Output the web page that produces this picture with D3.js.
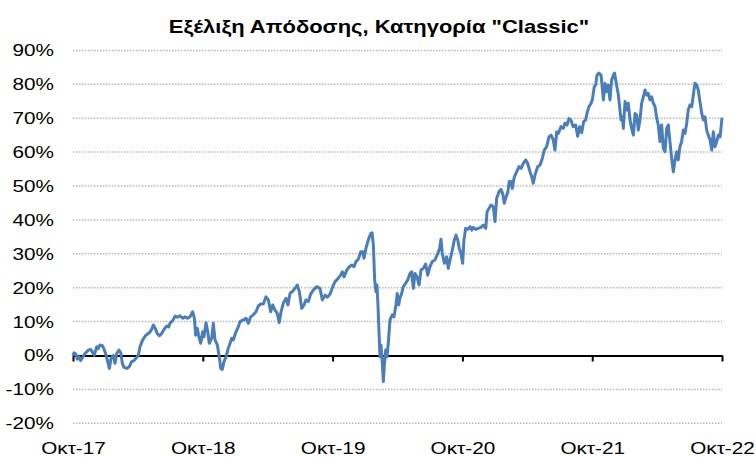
<!DOCTYPE html>
<html>
<head>
<meta charset="utf-8">
<script src="https://cdn.jsdelivr.net/npm/d3@7"></script>
<style>
  body { margin: 0; background: #fff; }
  svg { display: block; font-family: "Liberation Sans", Arial, sans-serif; }
</style>
</head>
<body>
<svg width="756" height="457"></svg>
<script>
const title = 'Εξέλιξη Απόδοσης, Κατηγορία "Classic"';
const xTickLabels = ["Οκτ-17", "Οκτ-18", "Οκτ-19", "Οκτ-20", "Οκτ-21", "Οκτ-22"];
const xTickYears = [2017.75, 2018.75, 2019.75, 2020.75, 2021.75, 2022.75];
const yTicks = [-20, -10, 0, 10, 20, 30, 40, 50, 60, 70, 80, 90];

// time as decimal year, return in %
const years = [
	2017.750, 2017.758, 2017.773, 2017.783, 2017.796, 2017.809, 2017.825, 2017.842, 2017.868, 2017.886,
	2017.902, 2017.914, 2017.933, 2017.945, 2017.958, 2017.979, 2017.997, 2018.014, 2018.030, 2018.043,
	2018.060, 2018.074, 2018.087, 2018.104, 2018.118, 2018.130, 2018.143, 2018.164, 2018.184, 2018.202,
	2018.220, 2018.235, 2018.253, 2018.266, 2018.287, 2018.312, 2018.338, 2018.356, 2018.369, 2018.384,
	2018.399, 2018.415, 2018.433, 2018.451, 2018.472, 2018.487, 2018.497, 2018.518, 2018.536, 2018.554,
	2018.574, 2018.595, 2018.613, 2018.632, 2018.651, 2018.672, 2018.685, 2018.695, 2018.708, 2018.718,
	2018.734, 2018.749, 2018.759, 2018.775, 2018.788, 2018.800, 2018.819, 2018.831, 2018.844, 2018.862,
	2018.877, 2018.888, 2018.900, 2018.913, 2018.929, 2018.942, 2018.960, 2018.973, 2018.985, 2019.006,
	2019.024, 2019.037, 2019.062, 2019.083, 2019.101, 2019.119, 2019.139, 2019.160, 2019.178, 2019.196,
	2019.216, 2019.237, 2019.255, 2019.273, 2019.289, 2019.306, 2019.324, 2019.339, 2019.353, 2019.370,
	2019.391, 2019.406, 2019.422, 2019.443, 2019.460, 2019.478, 2019.494, 2019.512, 2019.530, 2019.545,
	2019.563, 2019.581, 2019.601, 2019.628, 2019.653, 2019.671, 2019.692, 2019.709, 2019.730, 2019.751,
	2019.769, 2019.794, 2019.812, 2019.825, 2019.838, 2019.859, 2019.879, 2019.897, 2019.915, 2019.930,
	2019.948, 2019.967, 2019.982, 2019.992, 2020.007, 2020.025, 2020.044, 2020.054, 2020.064, 2020.074,
	2020.084, 2020.092, 2020.100, 2020.108, 2020.115, 2020.123, 2020.133, 2020.141, 2020.148, 2020.159,
	2020.169, 2020.179, 2020.192, 2020.210, 2020.223, 2020.238, 2020.248, 2020.259, 2020.269, 2020.282,
	2020.295, 2020.313, 2020.329, 2020.346, 2020.359, 2020.372, 2020.385, 2020.400, 2020.416, 2020.431,
	2020.449, 2020.467, 2020.483, 2020.500, 2020.518, 2020.539, 2020.560, 2020.575, 2020.585, 2020.595,
	2020.611, 2020.629, 2020.641, 2020.655, 2020.672, 2020.688, 2020.701, 2020.714, 2020.726, 2020.739,
	2020.752, 2020.762, 2020.775, 2020.791, 2020.809, 2020.822, 2020.834, 2020.852, 2020.872, 2020.893,
	2020.911, 2020.930, 2020.940, 2020.955, 2020.970, 2020.988, 2021.001, 2021.014, 2021.032, 2021.047,
	2021.061, 2021.073, 2021.086, 2021.099, 2021.111, 2021.124, 2021.134, 2021.150, 2021.168, 2021.186,
	2021.202, 2021.219, 2021.238, 2021.253, 2021.271, 2021.284, 2021.296, 2021.309, 2021.330, 2021.348,
	2021.366, 2021.381, 2021.399, 2021.417, 2021.433, 2021.450, 2021.463, 2021.477, 2021.489, 2021.510,
	2021.527, 2021.540, 2021.556, 2021.571, 2021.587, 2021.604, 2021.623, 2021.638, 2021.654, 2021.669,
	2021.684, 2021.700, 2021.710, 2021.725, 2021.741, 2021.751, 2021.766, 2021.777, 2021.787, 2021.802,
	2021.818, 2021.828, 2021.836, 2021.849, 2021.862, 2021.874, 2021.887, 2021.900, 2021.913, 2021.922,
	2021.939, 2021.951, 2021.964, 2021.972, 2021.982, 2021.990, 2022.003, 2022.016, 2022.028, 2022.041,
	2022.054, 2022.067, 2022.080, 2022.093, 2022.105, 2022.118, 2022.131, 2022.144, 2022.157, 2022.170,
	2022.182, 2022.195, 2022.208, 2022.221, 2022.234, 2022.247, 2022.259, 2022.272, 2022.285, 2022.298,
	2022.311, 2022.324, 2022.336, 2022.349, 2022.362, 2022.375, 2022.388, 2022.401, 2022.413, 2022.426,
	2022.439, 2022.452, 2022.465, 2022.478, 2022.490, 2022.503, 2022.517, 2022.529, 2022.542, 2022.555,
	2022.567, 2022.580, 2022.594, 2022.606, 2022.619, 2022.632, 2022.644, 2022.658, 2022.671, 2022.683,
	2022.696, 2022.709, 2022.722, 2022.735, 2022.742, 2022.750
];
const returns = [
	0.0, 0.8, 0.4, -1.1, -0.4, -1.5, -0.5, 0.6, 1.6, 1.8,
	0.8, 0.1, 2.6, 2.0, 3.1, 2.8, 1.1, -1.3, -3.8, -0.8,
	0.0, -2.3, 0.6, 1.6, 0.8, -2.3, -3.5, -3.8, -3.3, -1.8,
	-1.5, -0.8, 0.0, 2.6, 4.6, 6.0, 6.7, 7.7, 9.0, 8.0,
	6.5, 5.8, 6.5, 7.7, 8.7, 8.4, 9.5, 10.3, 11.6, 11.3,
	11.7, 11.0, 11.4, 11.0, 11.4, 12.9, 11.0, 6.0, 8.0, 5.8,
	3.6, 7.0, 5.5, 9.7, 7.0, 3.6, 5.1, 9.5, 4.6, 3.1,
	-0.4, -3.8, -4.1, -1.8, -0.4, 1.6, 3.6, 5.1, 4.6, 7.0,
	8.5, 10.0, 10.5, 11.0, 9.5, 11.4, 12.0, 12.9, 14.6, 15.2,
	15.2, 17.3, 16.4, 12.9, 14.9, 13.4, 12.4, 9.7, 12.9, 15.4,
	16.9, 14.9, 18.3, 19.0, 19.8, 20.8, 18.8, 13.9, 14.9, 16.4,
	15.9, 18.1, 19.3, 20.3, 19.8, 16.4, 17.8, 17.2, 18.1, 20.3,
	21.8, 22.8, 23.7, 24.7, 23.2, 25.2, 26.2, 26.7, 26.2, 27.7,
	28.4, 30.6, 30.6, 28.7, 31.6, 34.1, 36.0, 36.2, 32.6, 22.3,
	18.8, 20.8, 14.4, 6.5, -0.4, 3.1, -2.3, -7.7, -3.3, 1.6,
	-0.4, 3.6, 10.5, 12.0, 11.4, 14.9, 18.3, 14.9, 17.0, 18.3,
	20.3, 21.3, 22.3, 24.2, 24.7, 19.8, 24.2, 23.2, 20.8, 25.2,
	25.7, 27.0, 23.7, 26.2, 27.7, 28.2, 30.1, 31.6, 34.3, 30.1,
	27.2, 29.1, 25.7, 28.2, 31.1, 34.1, 35.5, 34.1, 31.6, 30.1,
	27.2, 34.1, 37.5, 37.2, 38.0, 37.0, 37.8, 37.2, 37.5, 37.8,
	38.5, 37.5, 42.4, 43.4, 44.4, 43.9, 39.5, 46.4, 48.3, 49.0,
	47.6, 44.9, 46.8, 48.0, 51.3, 51.3, 49.3, 52.7, 54.2, 55.7,
	55.2, 56.7, 57.7, 56.7, 54.2, 52.7, 50.8, 53.2, 55.7, 56.2,
	58.2, 60.6, 61.6, 64.5, 65.0, 63.6, 60.6, 66.0, 65.5, 67.5,
	67.0, 68.5, 68.0, 69.9, 69.3, 67.5, 68.0, 64.7, 67.5, 65.7,
	69.0, 69.5, 71.5, 73.4, 74.4, 75.4, 79.3, 79.8, 82.7, 83.3,
	82.7, 78.8, 75.4, 80.3, 77.8, 79.8, 75.4, 81.3, 82.7, 83.3,
	79.5, 77.0, 72.4, 69.5, 70.4, 67.0, 74.9, 72.4, 74.4, 69.5,
	67.0, 65.0, 71.4, 70.9, 66.5, 69.5, 74.4, 76.3, 78.3, 76.8,
	77.3, 75.4, 76.3, 74.4, 73.4, 70.0, 68.0, 63.1, 68.0, 61.1,
	60.1, 67.0, 68.0, 63.1, 58.2, 54.2, 57.7, 60.1, 57.7, 61.6,
	63.1, 66.5, 65.5, 68.5, 72.4, 73.9, 73.4, 76.8, 80.3, 79.8,
	78.3, 74.9, 71.4, 69.5, 70.4, 66.5, 65.0, 63.6, 60.6, 66.0,
	61.6, 63.1, 65.0, 64.5, 67.0, 70.2
];

const svg = d3.select("svg");
const width = 756, height = 457;
const margin = { top: 50.4, right: 34, bottom: 33.7, left: 73 };
const stretch = 1.22; // text in the original is widened

const xScale = d3.scaleLinear()
	.domain([xTickYears[0], xTickYears[xTickYears.length - 1]])
	.range([margin.left, width - margin.right]);
const yScale = d3.scaleLinear()
	.domain([d3.min(yTicks), d3.max(yTicks)])
	.range([height - margin.bottom, margin.top]);

// title
svg.append("g")
	.attr("transform", `translate(${width / 2 + 1}, 33)`)
	.append("text")
	.attr("transform", `scale(${stretch},1)`)
	.attr("text-anchor", "middle")
	.attr("font-size", 18)
	.attr("font-weight", "bold")
	.text(title);

// dotted gridlines
svg.append("g")
	.selectAll("line")
	.data(yTicks.filter(d => d !== 0))
	.enter()
	.append("line")
	.attr("x1", xScale.range()[0])
	.attr("x2", xScale.range()[1])
	.attr("y1", d => yScale(d))
	.attr("y2", d => yScale(d))
	.attr("stroke", "#b8b8b8")
	.attr("stroke-width", 1.5)
	.attr("stroke-dasharray", "1.5,1.5");

// y labels
const yAxis = d3.axisLeft(yScale)
	.tickValues(yTicks)
	.tickSize(0)
	.tickPadding(0)
	.tickFormat(d => d + "%");
const yg = svg.append("g")
	.attr("transform", `translate(${margin.left - 19}, 0)`)
	.call(yAxis);
yg.select(".domain").remove();
yg.selectAll("text")
	.attr("font-size", 17)
	.attr("font-family", null)
	.attr("fill", "#000")
	.attr("transform", `scale(${stretch},1)`);

// x axis sits at 0%
const xAxis = d3.axisBottom(xScale)
	.tickValues(xTickYears)
	.tickSize(6)
	.tickSizeOuter(0)
	.tickFormat((d, i) => xTickLabels[i]);
const xg = svg.append("g")
	.attr("transform", `translate(0, ${yScale(0)})`)
	.call(xAxis);
xg.select(".domain").attr("stroke", "#000").attr("stroke-width", 2);
xg.selectAll(".tick line").attr("stroke", "#000").attr("stroke-width", 2);
xg.selectAll("text")
	.attr("font-size", 17)
	.attr("font-family", null)
	.attr("fill", "#000")
	.attr("y", 0)
	.attr("dy", null)
	.attr("transform", `translate(0, ${height - 3 - yScale(0)}) scale(${stretch},1)`);

// return line
const points = years.map((t, i) => [t, returns[i]]);
const line = d3.line()
	.x(d => xScale(d[0]))
	.y(d => yScale(d[1]));

svg.append("path")
	.datum(points)
	.attr("fill", "none")
	.attr("stroke", "#4a7ebb")
	.attr("stroke-width", 3)
	.attr("stroke-linejoin", "round")
	.attr("d", line);
</script>
</body>
</html>
